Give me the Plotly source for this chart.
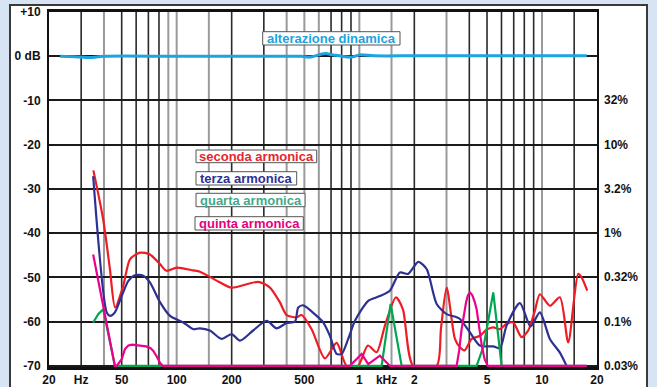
import plotly.graph_objects as go

# ---- measured response data (frequency in Hz, level in dB) ----
f_seconda = [35, 39.6, 43.1, 46, 51, 55.5, 63, 71.4, 81, 88, 100, 123, 134, 172, 200, 280, 324, 367,
             400, 454, 483, 548, 648, 751, 852, 982, 1114, 1244, 1381, 1585, 1732, 1972, 2650, 2800,
             3006, 3337, 3554, 3770, 4119, 4572, 4973, 5409, 5883, 6398, 6958, 7728, 8406, 9142,
             9736, 11040, 12530, 13915, 15780, 16470, 17690]
db_seconda = [-25.8, -36.9, -48.1, -56.8, -51.9, -45.9, -44.4, -44.8, -47.0, -48.5, -47.8, -48.4, -48.7,
              -51.1, -52.3, -51.0, -52.3, -55.6, -58.5, -59.0, -58.5, -61.7, -68.3, -64.8, -70, -70,
              -65.4, -66.9, -60.9, -54.5, -57.2, -70, -70, -61.4, -52.3, -63.9, -65.8, -66.5, -63.9,
              -63.2, -61.8, -61.3, -61.7, -60.5, -60.2, -63.5, -62.0, -57.5, -53.8, -56.4, -54.5,
              -64.7, -49.2, -50.0, -53.0]

f_terza = [34.9, 41.4, 43.2, 45.9, 50, 54.4, 59.1, 65.6, 71.4, 81, 91.9, 108.7, 123.3, 134, 152, 176,
           200, 222, 262, 311, 352, 400, 444, 463, 493, 584, 635, 690, 751, 800, 869, 946, 1119, 1296,
           1469, 1667, 1851, 2101, 2336, 2650, 3006, 3408, 3554, 4027, 4572, 5409, 5883, 6398, 7570,
           8660, 9736, 11040, 12530, 13630]
db_terza = [-27.1, -57.9, -58.7, -57.9, -54.2, -50.8, -49.5, -49.6, -51.1, -55.6, -58.7, -60.2, -61.7,
            -61.5, -62.0, -63.9, -62.8, -64.3, -62.0, -59.8, -61.5, -60.3, -60.0, -56.8, -56.3, -58.7,
            -60.2, -63.2, -67.3, -67.3, -63.9, -59.8, -55.3, -54.2, -53.0, -48.9, -49.2, -46.5, -48.1,
            -56.0, -58.3, -59.0, -59.4, -62.4, -65.4, -65.6, -66.0, -60.9, -55.8, -61.1, -57.9, -63.9,
            -67.0, -70]

f_quarta = [34.9, 37.2, 39.6, 45.9, 1324, 1483, 1705, 4386, 4800, 5409, 6010, 17600]
db_quarta = [-60.2, -58.3, -57.2, -70, -70, -56.0, -70, -70, -65.4, -53.4, -70, -70]

f_quinta = [34.9, 45.9, 47, 50, 52.1, 54.4, 57, 60.2, 68.0, 72, 74.5, 78, 81, 84, 888, 1029, 1119,
            1296, 1469, 3408, 3520, 3630, 3740, 3840, 3930, 4030, 4150, 4280, 4386, 4530, 4680, 4850,
            5050, 17600]
db_quinta = [-44.8, -70, -70, -68.5, -66.2, -65.4, -65.2, -65.3, -65.6, -66.0, -66.6, -68.0, -69.3,
             -70, -70, -67.3, -69.6, -67.7, -70, -70, -66.5, -61.7, -58.0, -55.6, -54.0, -53.4, -54.0,
             -55.5, -57.2, -61.5, -65.4, -68.5, -70, -70]

f_dinamica = [23, 28, 33.5, 40, 100, 400, 480, 535, 648, 720, 800, 905, 1000, 1200, 2000, 5000, 17600]
db_dinamica = [0, -0.1, -0.3, 0, 0, 0, 0, -0.2, 0.6, 0.3, 0, -0.2, 0.3, 0.1, 0.1, 0.1, 0.1]

# ---- axis labels ----
y_ticks = [10, 0, -10, -20, -30, -40, -50, -60, -70]
y_ticktext = ["+10", "0 dB", "-10", "-20", "-30", "-40", "-50", "-60", "-70"]
x_ticks = [20, 30, 50, 100, 200, 500, 1000, 1410, 2000, 5000, 10000, 20000]
x_ticktext = ["20", "Hz", "50", "100", "200", "500", "1", "kHz", "2", "5", "10", "20"]
pct_levels = [-10, -20, -30, -40, -50, -60, -70]
pct_labels = ["32%", "10%", "3.2%", "1%", "0.32%", "0.1%", "0.03%"]

# vertical log grid: frequency and line tone
grid_freqs = [30, 40, 50, 60, 70, 80, 90, 100, 150, 200, 300, 400, 500, 600, 700, 800, 900, 1000,
              1500, 2000, 3000, 4000, 5000, 6000, 7000, 8000, 9000, 10000, 15000]
grid_dark = [1, 0, 1, 1, 1, 1, 0, 0, 0, 1, 1, 0, 0, 0, 1, 1, 1, 0,
             0, 1, 0, 1, 1, 1, 1, 1, 1, 0, 1]

RED = "#ee1c25"
BLUE = "#2e3192"
GREEN = "#00a651"
MAGENTA = "#ec008c"
CYAN = "#1ca3e0"
FONT = "Liberation Sans, Arial, sans-serif"

W, H = 657, 387
ML, MR, MT, MB = 49, 60, 12, 20
PW, PH = W - ML - MR, H - MT - MB


def px(x):
    return (x - ML) / PW


def py(y):
    return 1 - (y - MT) / PH


fig = go.Figure()

fig.add_trace(go.Scatter(x=f_dinamica, y=db_dinamica, mode="lines",
                         line=dict(color=CYAN, width=3, shape="spline", smoothing=0.8)))
fig.add_trace(go.Scatter(x=f_seconda, y=db_seconda, mode="lines",
                         line=dict(color=RED, width=2.2, shape="spline", smoothing=0.7)))
fig.add_trace(go.Scatter(x=f_terza, y=db_terza, mode="lines",
                         line=dict(color=BLUE, width=2.2, shape="spline", smoothing=0.7)))
fig.add_trace(go.Scatter(x=f_quarta, y=db_quarta, mode="lines",
                         line=dict(color=GREEN, width=2.2)))
fig.add_trace(go.Scatter(x=f_quinta, y=db_quinta, mode="lines",
                         line=dict(color=MAGENTA, width=2.2)))

shapes = []
# white panel with dark frame
shapes.append(dict(type="rect", xref="paper", yref="paper", x0=px(10), x1=px(647), y0=py(395), y1=py(5),
                   fillcolor="white", line=dict(color="#3a3a3a", width=2), layer="below"))
for f, dark in zip(grid_freqs, grid_dark):
    shapes.append(dict(type="line", xref="x", yref="paper", x0=f, x1=f, y0=0, y1=1,
                       line=dict(color="#2a2a2a" if dark else "#9a9a9a", width=1.6 if dark else 2),
                       layer="below"))

annotations = []
# right-hand distortion percentage scale
for lvl, txt in zip(pct_levels, pct_labels):
    annotations.append(dict(xref="paper", yref="y", x=1, y=lvl, text=txt, showarrow=False,
                            xanchor="left", yanchor="middle", xshift=5,
                            font=dict(family=FONT, size=12, color="#111", weight="bold")))

# labelled boxes
boxes = [
    ("alterazione dinamica", CYAN, 262.7, 400, 31.7, 45),
    ("seconda armonica", "#e8262c", 196, 316.7, 150, 162.7),
    ("terza armonica", BLUE, 196, 296.7, 171.7, 185),
    ("quarta armonica", "#3fab8a", 196, 305, 193.3, 206.7),
    ("quinta armonica", "#e6007e", 195, 303.3, 216.7, 230),
]
for txt, col, x0, x1, y0, y1 in boxes:
    shapes.append(dict(type="rect", xref="paper", yref="paper", x0=px(x0), x1=px(x1), y0=py(y1), y1=py(y0),
                       fillcolor="white", line=dict(color="#555", width=1), layer="above"))
    annotations.append(dict(xref="paper", yref="paper", x=px((x0 + x1) / 2), y=py((y0 + y1) / 2 + 0.5),
                            text=txt, showarrow=False, xanchor="center", yanchor="middle",
                            font=dict(family=FONT, size=13, color=col, weight="bold")))

fig.update_layout(
    width=W, height=H, autosize=False,
    margin=dict(l=ML, r=MR, t=MT, b=MB, autoexpand=False),
    paper_bgcolor="#d6e4f4", plot_bgcolor="rgba(0,0,0,0)",
    showlegend=False,
    shapes=shapes, annotations=annotations,
    font=dict(family=FONT, size=12, color="#111"),
    xaxis=dict(type="log", range=[1.30103, 4.30103], showgrid=False, zeroline=False, automargin=False,
               tickvals=x_ticks, ticktext=x_ticktext, ticks="",
               tickfont=dict(family=FONT, size=12, color="#111", weight="bold"),
               showline=True, linecolor="#111", linewidth=2.5, mirror=True),
    yaxis=dict(range=[-70.25, 10], showgrid=True, gridcolor="#1a1a1a", gridwidth=1.5, zeroline=False,
               automargin=False,
               tickvals=y_ticks, ticktext=y_ticktext, ticks="", ticklabelstandoff=4,
               tickfont=dict(family=FONT, size=12, color="#111", weight="bold"),
               showline=True, linecolor="#111", linewidth=2, mirror=True),
)

fig.write_html("out.html")
